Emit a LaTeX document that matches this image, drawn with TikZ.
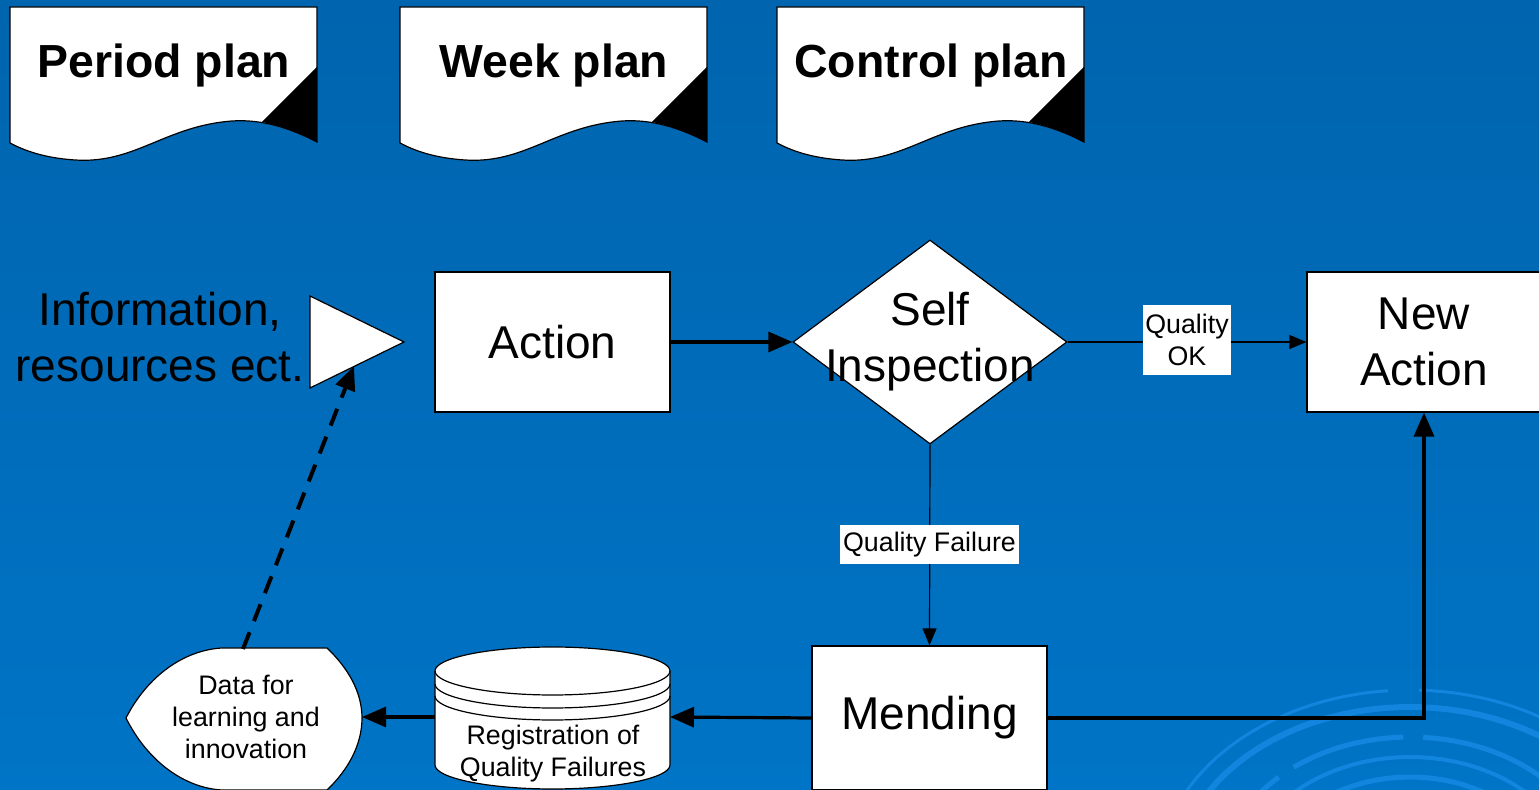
\documentclass[tikz,border=0pt]{standalone}
\usepackage{fontspec}
\setmainfont{Liberation Sans}
\usetikzlibrary{arrows.meta,shapes.geometric,calc}
\definecolor{bgtop}{RGB}{0,100,174}
\definecolor{bgbot}{RGB}{0,116,198}
\definecolor{swirlc}{RGB}{18,134,222}
\begin{document}
\begin{tikzpicture}[x=0.5pt,y=-0.5pt,
  shp/.style={draw=black,line width=0.6pt,fill=white},
  box/.style={shp,rectangle,inner sep=0pt},
  big/.style={font=\fontsize{23}{28}\selectfont},
  small/.style={font=\fontsize{13.4}{16}\selectfont},
  titlef/.style={font=\fontsize{23.2}{28}\selectfont\bfseries},
  thickarrow/.style={line width=1.6pt,-{Triangle[length=12pt,width=10pt]}},
  thinarrow/.style={line width=0.6pt,-{Triangle[length=8.5pt,width=7pt]}},
  lbl/.style={fill=white,inner sep=0pt,small,align=center},
  swirl/.style={draw=swirlc,line cap=butt}
]
\useasboundingbox (0,0) rectangle (1539,790);
\begin{scope}
\clip (0,0) rectangle (1539,790);
\fill[top color=bgtop,bottom color=bgbot] (0,0) rectangle (1539,790);
% background swirl
\draw[swirl,line width=1.5pt] plot[domain=95:160,samples=30,variable=\t] ({1410+253*cos(\t)},{880-190*sin(\t)});
\draw[swirl,line width=1.5pt] plot[domain=10:88,samples=30,variable=\t] ({1410+253*cos(\t)},{880-190*sin(\t)});
\draw[swirl,line width=3pt] plot[domain=15:165,samples=40,variable=\t] ({1410+234*cos(\t)},{880-173*sin(\t)});
\draw[swirl,line width=2.5pt] plot[domain=92:128,samples=20,variable=\t] ({1410+189*cos(\t)},{880-143*sin(\t)});
\draw[swirl,line width=2.5pt] plot[domain=134:160,samples=20,variable=\t] ({1410+189*cos(\t)},{880-143*sin(\t)});
\draw[swirl,line width=2.5pt] plot[domain=20:86,samples=30,variable=\t] ({1410+189*cos(\t)},{880-143*sin(\t)});
\draw[swirl,line width=2pt] plot[domain=15:170,samples=40,variable=\t] ({1410+165*cos(\t)},{880-123*sin(\t)});
\draw[swirl,line width=2.5pt] plot[domain=30:150,samples=30,variable=\t] ({1410+140*cos(\t)},{880-103*sin(\t)});
\end{scope}

% document shapes
\foreach \o/\t/\n in {0/Period plan/pp,390/Week plan/wp,767/Control plan/cp}{
  \begin{scope}[shift={(\o,0)}]
    \draw[shp] (10,7) -- (317,7) -- (317,142)
      .. controls (290,128) and (262,119) .. (232,121)
      .. controls (165,126) and (135,164) .. (75,160)
      .. controls (45,158) and (25,151) .. (10,143) -- cycle;
    \fill[black] (317,67) -- (317,142) .. controls (300,133) and (282,126) .. (262,122) -- cycle;
    \node[titlef,anchor=base] (\n) at (164,78) {\t};
  \end{scope}
}

% input triangle and text
\draw[shp] (310,296) -- (404,342) -- (310,388) -- cycle;
\coordinate (triB) at (354,366);
\node[big,align=center] (info) at (160,337) {Information,\\resources ect.};

% main boxes
\node[box,minimum width=117.5pt,minimum height=70pt,big] (act) at (552.5,342) {Action};
\node[diamond,shp,minimum width=137pt,minimum height=102pt,inner sep=0pt] (si) at (930,342) {};
\node[big,align=center] (sit) at (930,342) {Self\\Inspection};
\node[box,minimum width=117pt,minimum height=70pt,big,align=center] (na) at (1424,342) {New\\Action};
\node[box,minimum width=117.5pt,minimum height=72pt,big] (mend) at (929.5,718) {Mending};

% cylinder
\draw[shp] (435,671) -- (435,765)
  .. controls (435,778) and (488,789) .. (552.5,789)
  .. controls (617,789) and (670,778) .. (670,765) -- (670,671)
  .. controls (670,658) and (617,647) .. (552.5,647)
  .. controls (488,647) and (435,658) .. (435,671) -- cycle;
\foreach \yy in {671,684,696}{
  \draw[line width=0.6pt] (435,\yy) .. controls (435,\yy+13) and (488,\yy+24) .. (552.5,\yy+24)
    .. controls (617,\yy+24) and (670,\yy+13) .. (670,\yy);
}
\coordinate (cylR) at (670,717);
\coordinate (cylL) at (435,717);
\node[small,align=center] (reg) at (553,754) {Registration of\\Quality Failures};

% display shape
\draw[shp] (126,718) .. controls (148,675) and (185,650) .. (222,648) -- (327,648)
  .. controls (348,668) and (362,692) .. (362,718)
  .. controls (362,745) and (348,770) .. (327,790) -- (222,790)
  .. controls (185,788) and (148,762) .. (126,718) -- cycle;
\coordinate (dispR) at (362,717);
\coordinate (dispT) at (243,649);
\node[small,align=center] (data) at (246,717) {Data for\\learning and\\innovation};

% connectors
\draw[thickarrow] (act.east) -- (si.west);
\draw[thinarrow] (si.east) -- (na.west);
\draw[thinarrow] (si.south) -- (mend.north);
\draw[thickarrow] (mend.east) -| (na.south);
\draw[thickarrow] (mend.west) -- (cylR);
\draw[thickarrow] (cylL) -- (dispR);
\draw[line width=2pt,dash pattern=on 9pt off 6pt,-{Triangle[length=12pt,width=10pt]}] (dispT) -- (triB);

% labels
\node[lbl,minimum width=44pt,minimum height=35pt] (qok) at (1187,340) {Quality\\OK};
\node[lbl,minimum width=89.5pt,minimum height=19.5pt] (qf) at (929.5,544.5) {Quality Failure};
\end{tikzpicture}
\end{document}
